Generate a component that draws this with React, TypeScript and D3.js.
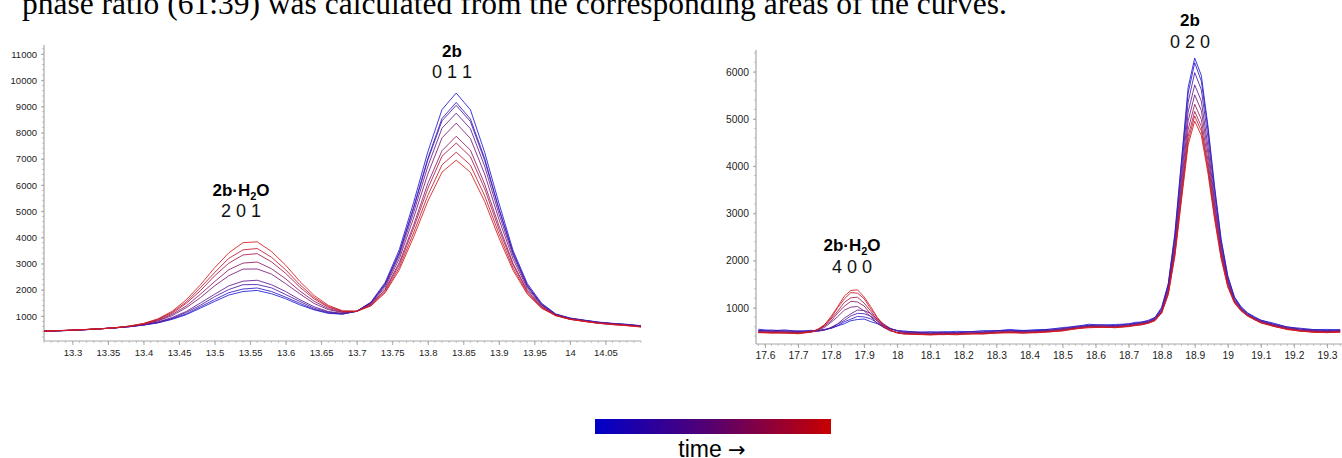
import React, { useEffect, useRef } from "react";
import * as d3 from "d3";

// ---------- LEFT PANEL DATA ----------
const leftX = [13.26, 13.28, 13.30, 13.32, 13.34, 13.36, 13.38, 13.40, 13.42, 13.44, 13.46, 13.48, 13.50, 13.52, 13.54, 13.56, 13.58, 13.60, 13.62, 13.64, 13.66, 13.68, 13.70, 13.72, 13.74, 13.76, 13.78, 13.80, 13.82, 13.84, 13.86, 13.88, 13.90, 13.92, 13.94, 13.96, 13.98, 14.00, 14.02, 14.04, 14.06, 14.08, 14.10];
const leftScan1 = [420, 432, 452, 478, 515, 548, 590, 655, 735, 870, 1050, 1300, 1555, 1800, 1935, 1975, 1850, 1660, 1425, 1235, 1100, 1070, 1185, 1530, 2280, 3540, 5330, 7260, 8880, 9510, 8870, 7250, 5320, 3500, 2240, 1490, 1080, 925, 845, 770, 720, 685, 630];
const leftScan2 = [418, 437, 455, 482, 510, 548, 590, 656, 744, 890, 1080, 1350, 1625, 1890, 2030, 2070, 1935, 1720, 1485, 1255, 1125, 1075, 1180, 1510, 2225, 3430, 5150, 7010, 8540, 9150, 8520, 7020, 5110, 3420, 2175, 1455, 1065, 915, 835, 760, 712, 674, 624];
const leftScan3 = [421, 435, 457, 480, 514, 546, 596, 658, 760, 910, 1135, 1410, 1735, 2010, 2195, 2200, 2075, 1820, 1555, 1300, 1150, 1090, 1178, 1505, 2210, 3400, 5095, 6950, 8450, 9040, 8420, 6940, 5080, 3390, 2160, 1440, 1064, 910, 830, 756, 708, 668, 620];
const leftScan4 = [422, 438, 456, 484, 512, 549, 598, 666, 770, 940, 1170, 1495, 1830, 2150, 2330, 2365, 2195, 1935, 1620, 1355, 1170, 1100, 1175, 1490, 2160, 3310, 4940, 6710, 8170, 8740, 8150, 6720, 4910, 3300, 2110, 1425, 1055, 903, 824, 750, 705, 664, 615];
const leftScan5 = [420, 440, 458, 482, 515, 550, 603, 678, 810, 1010, 1315, 1700, 2150, 2535, 2790, 2795, 2600, 2235, 1845, 1480, 1245, 1130, 1183, 1465, 2100, 3190, 4735, 6415, 7800, 8360, 7775, 6420, 4705, 3175, 2050, 1398, 1045, 895, 817, 744, 700, 660, 610];
const leftScan6 = [424, 438, 460, 485, 512, 552, 605, 690, 825, 1058, 1380, 1830, 2310, 2765, 3020, 3060, 2805, 2420, 1955, 1565, 1285, 1148, 1176, 1438, 2020, 3045, 4465, 6055, 7310, 7860, 7330, 6035, 4460, 3010, 1978, 1360, 1033, 880, 807, 734, 690, 650, 600];
const leftScan7 = [423, 441, 461, 486, 515, 550, 611, 698, 855, 1100, 1480, 1965, 2530, 3015, 3330, 3380, 3070, 2630, 2100, 1655, 1335, 1170, 1182, 1420, 1985, 2960, 4350, 5860, 7100, 7600, 7080, 5860, 4320, 2945, 1935, 1342, 1026, 878, 797, 724, 680, 640, 590];
const leftScan8 = [426, 440, 462, 487, 514, 555, 612, 708, 866, 1140, 1530, 2075, 2655, 3200, 3525, 3575, 3245, 2765, 2195, 1712, 1368, 1183, 1178, 1400, 1930, 2855, 4170, 5600, 6770, 7250, 6760, 5590, 4150, 2830, 1880, 1318, 1017, 875, 796, 724, 675, 635, 585];
const leftScan9 = [425, 443, 462, 488, 514, 554, 618, 715, 890, 1175, 1615, 2185, 2840, 3410, 3800, 3830, 3465, 2940, 2320, 1785, 1408, 1200, 1179, 1383, 1885, 2765, 4010, 5380, 6490, 6950, 6480, 5375, 3990, 2740, 1835, 1297, 1009, 872, 795, 724, 670, 630, 580];
const leftXTicks = [13.3, 13.35, 13.4, 13.45, 13.5, 13.55, 13.6, 13.65, 13.7, 13.75, 13.8, 13.85, 13.9, 13.95, 14, 14.05];
const leftYTicks = [1000, 2000, 3000, 4000, 5000, 6000, 7000, 8000, 9000, 10000, 11000];

// ---------- RIGHT PANEL DATA ----------
const rightX = [17.58, 17.62, 17.66, 17.70, 17.74, 17.76, 17.78, 17.80, 17.82, 17.84, 17.86, 17.88, 17.90, 17.92, 17.94, 17.96, 17.98, 18.00, 18.02, 18.06, 18.10, 18.14, 18.18, 18.22, 18.26, 18.30, 18.34, 18.38, 18.42, 18.46, 18.50, 18.54, 18.58, 18.62, 18.66, 18.70, 18.72, 18.74, 18.76, 18.78, 18.80, 18.82, 18.84, 18.86, 18.88, 18.90, 18.92, 18.94, 18.96, 18.98, 19.00, 19.02, 19.04, 19.06, 19.08, 19.10, 19.14, 19.18, 19.22, 19.26, 19.30, 19.34];
const rightScan1 = [545, 510, 530, 495, 520, 515, 540, 560, 615, 660, 725, 750, 760, 705, 662, 590, 556, 512, 508, 478, 492, 480, 500, 490, 515, 510, 540, 515, 535, 540, 580, 600, 650, 630, 645, 655, 690, 695, 735, 795, 1010, 1510, 2580, 4120, 5660, 6290, 5920, 4850, 3580, 2450, 1680, 1230, 1025, 890, 812, 735, 670, 590, 565, 535, 540, 530];
const rightScan2 = [515, 528, 505, 512, 502, 520, 528, 572, 618, 700, 758, 815, 805, 765, 680, 612, 548, 518, 490, 488, 468, 490, 472, 495, 488, 518, 512, 520, 512, 545, 555, 610, 622, 640, 618, 660, 665, 698, 715, 792, 980, 1495, 2520, 4060, 5540, 6190, 5800, 4780, 3510, 2420, 1650, 1225, 1000, 885, 795, 738, 645, 595, 545, 538, 515, 535];
const rightScan3 = [520, 498, 512, 485, 505, 500, 535, 568, 650, 730, 826, 880, 872, 820, 720, 632, 552, 515, 482, 476, 460, 478, 462, 488, 478, 505, 518, 494, 515, 518, 558, 585, 628, 612, 622, 635, 668, 675, 712, 770, 962, 1460, 2450, 3930, 5350, 5980, 5620, 4610, 3410, 2345, 1620, 1195, 995, 865, 792, 715, 648, 575, 548, 515, 512, 515];
const rightScan4 = [495, 505, 482, 488, 484, 506, 522, 585, 658, 778, 870, 950, 940, 878, 758, 652, 560, 512, 476, 465, 458, 452, 468, 465, 482, 485, 505, 488, 495, 522, 535, 585, 605, 618, 598, 636, 645, 676, 695, 768, 942, 1418, 2360, 3770, 5140, 5720, 5380, 4420, 3270, 2280, 1568, 1170, 982, 855, 770, 715, 625, 575, 525, 515, 495, 512];
const rightScan5 = [488, 478, 492, 465, 488, 530, 580, 690, 810, 948, 1012, 1025, 932, 810, 670, 575, 505, 478, 455, 456, 440, 455, 445, 466, 458, 486, 485, 486, 482, 510, 538, 565, 608, 595, 600, 615, 648, 655, 692, 748, 930, 1370, 2290, 3630, 4950, 5510, 5180, 4270, 3175, 2200, 1540, 1148, 968, 842, 772, 695, 625, 555, 528, 495, 495, 498];
const rightScan6 = [480, 488, 470, 472, 498, 525, 610, 718, 885, 1030, 1135, 1122, 1035, 865, 718, 585, 520, 468, 460, 440, 446, 438, 452, 450, 465, 470, 490, 470, 492, 495, 530, 568, 590, 600, 585, 620, 628, 660, 680, 750, 910, 1345, 2215, 3505, 4770, 5310, 4990, 4120, 3065, 2150, 1500, 1140, 950, 845, 758, 700, 610, 560, 510, 500, 482, 500];
const rightScan7 = [485, 468, 478, 455, 486, 540, 612, 760, 925, 1112, 1210, 1222, 1098, 928, 740, 606, 515, 475, 448, 446, 430, 445, 435, 455, 450, 475, 478, 475, 475, 498, 515, 562, 595, 585, 590, 605, 635, 645, 682, 732, 905, 1312, 2170, 3405, 4630, 5160, 4840, 4010, 2985, 2100, 1470, 1120, 950, 830, 760, 685, 615, 545, 515, 485, 485, 488];
const rightScan8 = [470, 475, 460, 462, 495, 532, 638, 782, 998, 1185, 1320, 1308, 1192, 975, 784, 612, 528, 465, 452, 430, 436, 428, 442, 440, 455, 460, 482, 460, 480, 485, 520, 550, 588, 590, 575, 610, 620, 648, 670, 738, 885, 1300, 2125, 3340, 4535, 5060, 4745, 3925, 2930, 2070, 1455, 1115, 935, 835, 748, 690, 600, 548, 500, 490, 470, 490];
const rightScan9 = [475, 460, 465, 448, 482, 545, 636, 815, 1020, 1245, 1365, 1378, 1228, 1022, 792, 630, 518, 470, 440, 435, 420, 436, 425, 448, 440, 465, 465, 465, 468, 490, 505, 555, 575, 585, 580, 598, 625, 635, 672, 722, 890, 1275, 2090, 3280, 4445, 4955, 4650, 3850, 2875, 2030, 1440, 1100, 935, 820, 750, 675, 605, 535, 505, 475, 475, 478];
const rightXTicks = [17.6, 17.7, 17.8, 17.9, 18, 18.1, 18.2, 18.3, 18.4, 18.5, 18.6, 18.7, 18.8, 18.9, 19, 19.1, 19.2, 19.3];
const rightYTicks = [1000, 2000, 3000, 4000, 5000, 6000];

const leftScans = [leftScan1, leftScan2, leftScan3, leftScan4, leftScan5, leftScan6, leftScan7, leftScan8, leftScan9];
const rightScans = [rightScan1, rightScan2, rightScan3, rightScan4, rightScan5, rightScan6, rightScan7, rightScan8, rightScan9];

const SANS = "'Liberation Sans', Arial, sans-serif";
const lineColor = d3.interpolateRgb("#1a1ad8", "#d81a1a");

type Panel = {
  xs: number[];
  scans: number[][];
  xDomain: [number, number];
  xRange: [number, number];
  yDomain: [number, number];
  yRange: [number, number];
  xTicks: number[];
  yTicks: number[];
  xMinorStep: number;
  yMinorStep: number;
  fontSize: number;
};

function drawPanel(g: any, p: Panel) {
  const x = d3.scaleLinear().domain(p.xDomain).range(p.xRange);
  const y = d3.scaleLinear().domain(p.yDomain).range(p.yRange);
  const axisColor = "#a8a8a8";
  const x0 = p.xRange[0];
  const yb = p.yRange[0];

  const xMinor = d3.range(Math.ceil(p.xDomain[0] / p.xMinorStep), Math.floor(p.xDomain[1] / p.xMinorStep) + 1).map((k) => k * p.xMinorStep);
  g.append("g").selectAll("line").data(xMinor).join("line")
    .attr("x1", (d: number) => x(d)).attr("x2", (d: number) => x(d))
    .attr("y1", yb).attr("y2", yb + 2)
    .attr("stroke", "#c4c4c4").attr("stroke-width", 1);
  const yMinor = d3.range(Math.ceil(p.yDomain[0] / p.yMinorStep), Math.floor(p.yDomain[1] / p.yMinorStep) + 1).map((k) => k * p.yMinorStep);
  g.append("g").selectAll("line").data(yMinor).join("line")
    .attr("x1", x0 - 2).attr("x2", x0)
    .attr("y1", (d: number) => y(d)).attr("y2", (d: number) => y(d))
    .attr("stroke", "#c4c4c4").attr("stroke-width", 1);

  const xAxis = d3.axisBottom(x).tickValues(p.xTicks).tickSize(4).tickPadding(4).tickFormat((d) => String(d));
  const yAxis = d3.axisLeft(y).tickValues(p.yTicks).tickSize(3).tickPadding(4).tickFormat((d) => String(d));
  const gx = g.append("g").attr("transform", `translate(0,${yb})`).call(xAxis);
  const gy = g.append("g").attr("transform", `translate(${x0},0)`).call(yAxis);
  [gx, gy].forEach((a: any) => {
    a.select(".domain").attr("stroke", axisColor).attr("stroke-width", 1.2);
    a.selectAll(".tick line").attr("stroke", axisColor);
    a.selectAll(".tick text").attr("fill", "#222").attr("font-family", SANS).attr("font-size", p.fontSize);
  });
  gy.select(".domain").attr("d", `M0,${p.yRange[0]}V${p.yRange[1]}`);
  gx.select(".domain").attr("d", `M${p.xRange[0]},0H${p.xRange[1]}`);

  const clipId = "clip" + Math.round(x0);
  g.append("clipPath").attr("id", clipId).append("rect")
    .attr("x", p.xRange[0]).attr("y", p.yRange[1] - 20)
    .attr("width", p.xRange[1] - p.xRange[0]).attr("height", yb - p.yRange[1] + 20);
  const line = d3.line<number>().x((_, i) => x(p.xs[i])).y((d) => y(d));
  const n = p.scans.length;
  g.append("g").attr("clip-path", `url(#${clipId})`)
    .selectAll("path").data(p.scans).join("path")
    .attr("d", (d: number[]) => line(d))
    .attr("fill", "none")
    .attr("stroke", (_: any, i: number) => lineColor(i / (n - 1)))
    .attr("stroke-width", 1)
    .attr("stroke-opacity", 0.85)
    .attr("stroke-linejoin", "round");
}

function label(g: any, cx: number, y1: number, y2: number, water: boolean, hkl: string) {
  const t = g.append("text").attr("x", cx).attr("y", y1).attr("text-anchor", "middle")
    .attr("font-family", SANS).attr("font-weight", "bold").attr("font-size", 17).attr("fill", "#000");
  if (water) {
    t.append("tspan").text("2b·H");
    t.append("tspan").attr("font-size", 11).attr("dy", 4).text("2");
    t.append("tspan").attr("dy", -4).text("O");
  } else {
    t.text("2b");
  }
  g.append("text").attr("x", cx).attr("y", y2).attr("text-anchor", "middle")
    .attr("font-family", SANS).attr("font-size", 18).attr("fill", "#111").text(hkl);
}

export default function App() {
  const ref = useRef<SVGSVGElement>(null);
  useEffect(() => {
    const svg = d3.select(ref.current);
    svg.selectAll("*").remove();

    svg.append("text").attr("x", 22).attr("y", 14)
      .attr("font-family", "'Liberation Serif', 'Times New Roman', serif").attr("font-size", 31.5).attr("fill", "#000")
      .text("phase ratio (61:39) was calculated from the corresponding areas of the curves.");

    const g = svg.append("g") as any;

    drawPanel(g, {
      xs: leftX, scans: leftScans,
      xDomain: [13.26, 14.1], xRange: [44, 641],
      yDomain: [46, 11344], yRange: [341, 45],
      xTicks: leftXTicks, yTicks: leftYTicks,
      xMinorStep: 0.01, yMinorStep: 200, fontSize: 9.5,
    });
    drawPanel(g, {
      xs: rightX, scans: rightScans,
      xDomain: [17.573, 19.3455], xRange: [756, 1342],
      yDomain: [231, 6460], yRange: [344, 50],
      xTicks: rightXTicks, yTicks: rightYTicks,
      xMinorStep: 0.02, yMinorStep: 200, fontSize: 10.3,
    });

    label(g, 241, 196, 217, true, "2 0 1");
    label(g, 452, 57, 78, false, "0 1 1");
    label(g, 852, 251, 273, true, "4 0 0");
    label(g, 1190, 26, 48, false, "0 2 0");

    const defs = svg.append("defs");
    const grad = defs.append("linearGradient").attr("id", "timegrad").attr("x1", "0%").attr("x2", "100%");
    grad.append("stop").attr("offset", "0%").attr("stop-color", "#0000c8");
    grad.append("stop").attr("offset", "50%").attr("stop-color", "#58006e");
    grad.append("stop").attr("offset", "100%").attr("stop-color", "#c80000");
    svg.append("rect").attr("x", 595).attr("y", 419).attr("width", 236).attr("height", 15).attr("fill", "url(#timegrad)");
    const tt = svg.append("text").attr("x", 712).attr("y", 457).attr("text-anchor", "middle")
      .attr("font-family", SANS).attr("font-size", 23).attr("fill", "#000");
    tt.append("tspan").text("time ");
    tt.append("tspan").attr("font-family", "'DejaVu Sans', sans-serif").attr("font-size", 21).text("→");
  }, []);
  return (
    <>
      <style>{`body{margin:0;background:#fff}`}</style>
      <svg ref={ref} width={1342} height={458} style={{ display: "block", background: "#fff" }} />
    </>
  );
}
